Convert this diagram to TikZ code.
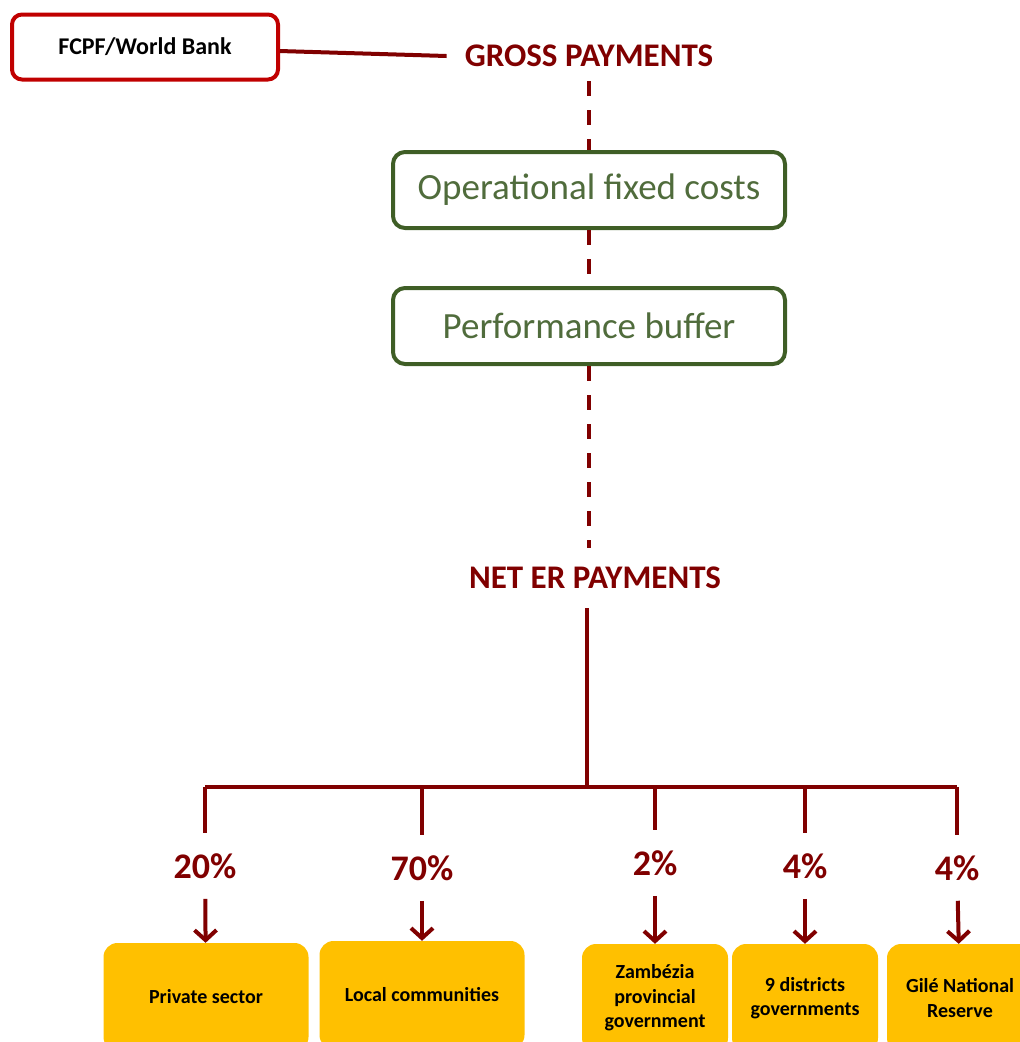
\documentclass[tikz,border=0pt]{standalone}
\usepackage{fontspec}
\setmainfont{Carlito}
\usetikzlibrary{positioning, arrows.meta}
\definecolor{paydark}{HTML}{800000}
\definecolor{bankred}{HTML}{C00000}
\definecolor{costgreen}{HTML}{3F5E26}
\definecolor{costtext}{HTML}{506C3C}
\definecolor{shareyellow}{HTML}{FFC000}

\begin{document}
\begin{tikzpicture}[x=1pt, y=-1pt, on grid,
    bank/.style={draw=bankred, line width=4pt, rounded corners=10pt, minimum width=266pt, minimum height=65pt, font=\bfseries\fontsize{24}{26}\selectfont},
    pay/.style={text=paydark, inner xsep=18pt, inner ysep=14pt, font=\bfseries\fontsize{33}{36}\selectfont},
    cost/.style={draw=costgreen, line width=4pt, rounded corners=12pt, minimum width=392pt, minimum height=76pt, text=costtext, font=\fontsize{37}{40}\selectfont},
    pct/.style={text=paydark, inner ysep=20pt, font=\bfseries\fontsize{36}{38}\selectfont},
    share/.style={fill=shareyellow, rounded corners=14pt, minimum width=#1, minimum height=108pt, align=center, font=\bfseries\fontsize{20}{24.5}\selectfont},
    share/.default=146pt,
    link/.style={draw=paydark, line width=4pt},
    flow/.style={link, dash pattern=on 15pt off 14pt},
    down/.style={link, -{Straight Barb[length=10pt, width=22pt]}}
]
        \path[use as bounding box, clip] (0,0) rectangle (1020,1042);

        \node[bank] (fcpf) at (145,47) {FCPF/World Bank};
        \node[pay] (gross) at (589,56) {GROSS PAYMENTS};
        \node[cost] (fixed) [below=134pt of gross] {Operational fixed costs};
        \node[cost] (buffer) [below=136pt of fixed] {Performance buffer};
        \node[pay, inner ysep=19pt] (net) [below=252pt of buffer, xshift=6pt] {NET ER PAYMENTS};

        \coordinate (split) at (587,787);
        \coordinate (barleft) at (205,787);
        \coordinate (barright) at (957,787);

        \node[pct] (p20) at (205,866) {20\%};
        \node[pct] (p70) at (422,868) {70\%};
        \node[pct] (p2)  at (655,863) {2\%};
        \node[pct] (p4a) at (805,866) {4\%};
        \node[pct] (p4b) at (957,868) {4\%};

        \node[share=205pt] (private) at (206,997) {Private sector};
        \node[share=205pt] (local)   at (422,995) {Local communities};
        \node[share] (province) at (655,998) {Zambézia\\provincial\\government};
        \node[share] (districts) at (805,998) {9 districts\\governments};
        \node[share] (reserve)  at (960,998) {Gilé National\\Reserve};

        \path[link] (fcpf) -- (gross.west);
        \path[flow] (gross) -- (fixed);
        \path[flow] (fixed) -- (buffer);
        \path[flow] (buffer) -- (buffer |- net.north);
        \path[link] (split |- net.south) -- (split);
        \path[link] (barleft) -- (barright);

        \path[link] (barleft) -- (p20.north);
        \path[link] (p70.north |- split) -- (p70.north);
        \path[link] (p2.north |- split) -- (p2.north);
        \path[link] (p4a.north |- split) -- (p4a.north);
        \path[link] (barright) -- (p4b.north);

        \path[down] (p20) -- (private);
        \path[down] (p70) -- (local);
        \path[down] (p2) -- (province);
        \path[down] (p4a) -- (districts);
        \path[down] (p4b) -- (reserve);
\end{tikzpicture}
\end{document}
